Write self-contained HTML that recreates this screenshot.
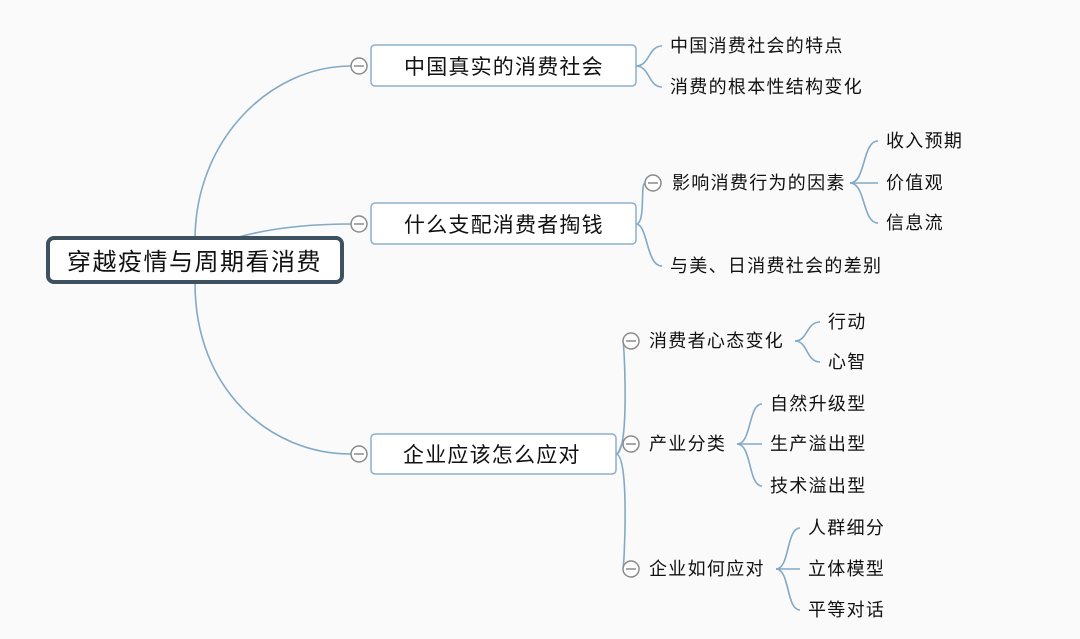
<!DOCTYPE html>
<html><head><meta charset="utf-8"><style>
html,body{margin:0;padding:0;background:#fafafa;}
svg{display:block;font-family:"Liberation Sans","Noto Sans CJK SC",sans-serif;}
</style></head><body>
<svg width="1080" height="639" viewBox="0 0 1080 639">
<g fill="none" stroke="#82a9c6" stroke-width="1.6">
<path d="M195 240 C195 140 270 66 351 66"/>
<path d="M235 238 C270 228 310 224 351 224"/>
<path d="M195 283 C195 390 270 454 351 454"/>
<path d="M636 66 C650 66 648 46 662 46"/>
<path d="M636 66 C650 66 648 87 662 87"/>
<path d="M636 224 C646 224 640 183 645 183"/>
<path d="M636 224 C648 224 646 266 662 266"/>
<path d="M850 183 C866 183 862 141 878 141"/>
<path d="M850 183 L878 183"/>
<path d="M850 183 C866 183 862 223 878 223"/>
<path d="M616 454 C630 454 624 341 623 341"/>
<path d="M616 454 C620 454 620 444 623 444"/>
<path d="M616 454 C630 454 624 569 623 569"/>
<path d="M795 341 C808 341 806 322 820 322"/>
<path d="M795 341 C808 341 806 362 820 362"/>
<path d="M737 444 C752 444 748 404 762 404"/>
<path d="M737 444 L762 444"/>
<path d="M737 444 C752 444 748 486 762 486"/>
<path d="M776 569 C790 569 786 528 800 528"/>
<path d="M776 569 L800 569"/>
<path d="M776 569 C790 569 786 610 800 610"/>
</g>
<rect x="48" y="238" width="294" height="44" rx="6" fill="#fff" stroke="#3e5160" stroke-width="4"/>
<text x="67" y="270" font-size="24" letter-spacing="1.5" fill="#111">穿越疫情与周期看消费</text>
<g fill="#fff" stroke="#8ab0cc" stroke-width="1.5">
<rect x="371" y="45" width="265" height="41" rx="4"/>
<rect x="371" y="203" width="265" height="41" rx="4"/>
<rect x="371" y="434" width="245" height="40" rx="4"/>
</g>
<g font-size="21" letter-spacing="1.2" fill="#111">
<text x="404" y="74">中国真实的消费社会</text>
<text x="404" y="232">什么支配消费者掏钱</text>
<text x="403" y="462">企业应该怎么应对</text>
</g>
<g fill="#fff" stroke="#8a8a8a" stroke-width="1.5">
<circle cx="359" cy="66" r="8"/><circle cx="359" cy="224" r="8"/><circle cx="359" cy="454" r="8"/>
<circle cx="653" cy="183" r="8"/><circle cx="631" cy="341" r="8"/><circle cx="631" cy="444" r="8"/><circle cx="631" cy="569" r="8"/>
</g>
<g stroke="#8a8a8a" stroke-width="1.5">
<line x1="354" y1="66" x2="364" y2="66"/><line x1="354" y1="224" x2="364" y2="224"/><line x1="354" y1="454" x2="364" y2="454"/>
<line x1="648" y1="183" x2="658" y2="183"/><line x1="626" y1="341" x2="636" y2="341"/><line x1="626" y1="444" x2="636" y2="444"/><line x1="626" y1="569" x2="636" y2="569"/>
</g>
<g font-size="18" letter-spacing="1.3" fill="#111">
<text x="670" y="52">中国消费社会的特点</text>
<text x="670" y="93">消费的根本性结构变化</text>
<text x="672" y="189">影响消费行为的因素</text>
<text x="670" y="272">与美、日消费社会的差别</text>
<text x="886" y="147">收入预期</text>
<text x="886" y="189">价值观</text>
<text x="886" y="229">信息流</text>
<text x="649" y="347">消费者心态变化</text>
<text x="828" y="328">行动</text>
<text x="828" y="368">心智</text>
<text x="649" y="450">产业分类</text>
<text x="770" y="410">自然升级型</text>
<text x="770" y="450">生产溢出型</text>
<text x="770" y="492">技术溢出型</text>
<text x="649" y="575">企业如何应对</text>
<text x="808" y="534">人群细分</text>
<text x="808" y="575">立体模型</text>
<text x="808" y="616">平等对话</text>
</g>
</svg>
</body></html>
